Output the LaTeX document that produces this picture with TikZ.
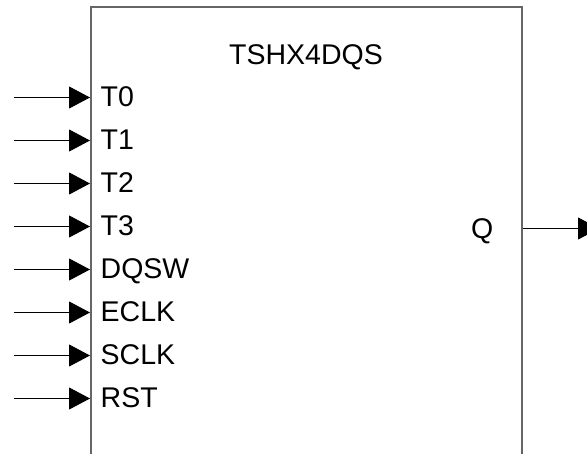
\documentclass[tikz,border=0pt]{standalone}
\usepackage{fontspec}
\setmainfont{Liberation Sans}
\usetikzlibrary{arrows.meta}
\begin{document}
\begin{tikzpicture}[x=1pt,y=-1pt,
  lbl/.style={inner sep=0pt,font=\fontsize{28.5}{30}\selectfont},
  pin/.style={line width=1pt,black,-{Triangle[length=21pt,width=22pt]}},
  blk/.style={draw=black!60,line width=2pt,inner sep=0pt,minimum width=431pt,minimum height=473pt}]
\useasboundingbox (0,0) rectangle (587,453);
\fill[white] (0,0) rectangle (587,453);
\node[blk] (box) at (306.5,243.5) {};
\node[lbl,anchor=base] (title) at (306,64) {TSHX4DQS};
\foreach \n/\t [count=\i from 0] in {t0/T0,t1/T1,t2/T2,t3/T3,dqsw/DQSW,eclk/ECLK,sclk/SCLK,rst/RST}{
  \coordinate (s\n) at (14,{97.5+43*\i});
  \draw[pin] (s\n) -- (s\n -| box.west);
  \node[lbl,anchor=base west] (l\n) at (100.5,{106+43*\i}) {\t};
}
\node[lbl,anchor=base west] (q) at (471,238.5) {Q};
\coordinate (qstart) at (box.east |- 0,228.5);
\coordinate (qend) at (599,228.5);
\draw[pin] (qstart) -- (qend);
\end{tikzpicture}
\end{document}
